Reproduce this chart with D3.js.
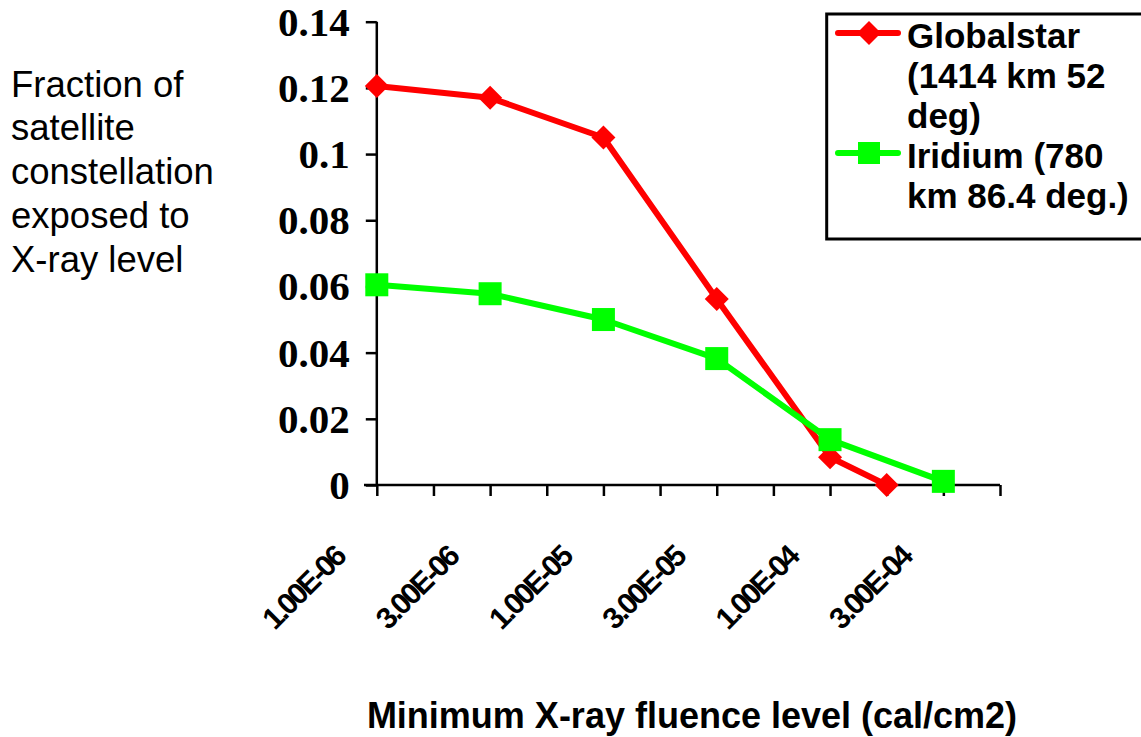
<!DOCTYPE html>
<html><head><meta charset="utf-8">
<script src="https://cdn.jsdelivr.net/npm/d3@7"></script>
<style>body{margin:0;background:#fff;overflow:hidden}svg{display:block}</style>
</head><body>
<svg id="c" width="1141" height="737"></svg>
<script>
// ---- data ----
const tickLabels = ["1.00E-06","3.00E-06","1.00E-05","3.00E-05","1.00E-04","3.00E-04"];
const tickLabelIdx = [0,2,4,6,8,10];
const globalstarIdx  = [0,2,4,6,8,9];
const globalstarVals = [0.1206,0.117,0.105,0.0562,0.0084,0.0];
const iridiumIdx  = [0,2,4,6,8,10];
const iridiumVals = [0.0605,0.0578,0.0500,0.0382,0.0137,0.0011];
const yTicks = [0,0.02,0.04,0.06,0.08,0.1,0.12,0.14];
const seriesNames = [["Globalstar","(1414 km 52","deg)"],["Iridium (780","km 86.4 deg.)"]];
const yTitle = ["Fraction of","satellite","constellation","exposed to","X-ray level"];
const xTitle = "Minimum X-ray fluence level (cal/cm2)";

const svg = d3.select("#c");
const x = d3.scaleLinear().domain([0,11]).range([376.8,1000]);
const y = d3.scaleLinear().domain([0,0.14]).range([485,21.7]);

// Y axis
const yAxis = svg.append("g").attr("transform","translate(376.8,0)")
  .call(d3.axisLeft(y).tickValues(yTicks).tickSize(11).tickPadding(0).tickFormat(d=>d3.format("")(d)));
yAxis.select(".domain").attr("stroke","#000").attr("stroke-width",2.5).attr("d","M0,21.7V485");
yAxis.selectAll(".tick line").attr("stroke","#000").attr("stroke-width",2.5);
yAxis.selectAll(".tick text").attr("x",-27).attr("dy","0.33em")
  .style("font-family","'Liberation Serif','Times New Roman',serif").style("font-weight","bold")
  .style("font-size","41px").attr("fill","#000");

// X axis
const xAxis = svg.append("g").attr("transform","translate(0,485)")
  .call(d3.axisBottom(x).tickValues(d3.range(0,12)).tickSize(11).tickFormat(""));
xAxis.select(".domain").attr("stroke","#000").attr("stroke-width",2.5).attr("d","M364,0H1000");
xAxis.selectAll(".tick line").attr("stroke","#000").attr("stroke-width",2.5);

// X tick labels (rotated)
svg.append("g").selectAll("text").data(tickLabelIdx).join("text")
  .attr("transform",(d)=>`translate(${x(d)-30},559) rotate(-45)`)
  .attr("text-anchor","end")
  .style("font-family","'Liberation Sans',Arial,sans-serif").style("font-weight","bold")
  .style("font-size","30px").style("letter-spacing","-2.5px")
  .text((d,i)=>tickLabels[i]);

// Lines
const line = d3.line().x(d=>x(d[0])).y(d=>y(d[1]));
const gData = globalstarIdx.map((d,i)=>[d,globalstarVals[i]]);
const iData = iridiumIdx.map((d,i)=>[d,iridiumVals[i]]);
svg.append("path").datum(gData).attr("d",line).attr("fill","none").attr("stroke","#ff0000").attr("stroke-width",6).attr("stroke-linejoin","round");
svg.append("path").datum(iData).attr("d",line).attr("fill","none").attr("stroke","#00ff00").attr("stroke-width",6).attr("stroke-linejoin","round");
const diamond = (cx,cy,r)=>`M${cx},${cy-r}L${cx+r},${cy}L${cx},${cy+r}L${cx-r},${cy}Z`;
svg.append("g").selectAll("path").data(gData).join("path")
  .attr("d",d=>diamond(x(d[0]),y(d[1]),12)).attr("fill","#ff0000");
svg.append("g").selectAll("rect").data(iData).join("rect")
  .attr("x",d=>x(d[0])-11.5).attr("y",d=>y(d[1])-11.5).attr("width",23).attr("height",23).attr("fill","#00ff00");

// Legend
const lg = svg.append("g");
lg.append("rect").attr("x",826.7).attr("y",14).attr("width",330).attr("height",225)
  .attr("fill","#fff").attr("stroke","#000").attr("stroke-width",3);
lg.append("line").attr("x1",838).attr("x2",898).attr("y1",33).attr("y2",33).attr("stroke","#ff0000").attr("stroke-width",6).attr("stroke-linecap","round");
lg.append("path").attr("d",diamond(869,33,12)).attr("fill","#ff0000");
lg.append("line").attr("x1",838).attr("x2",898).attr("y1",153).attr("y2",153).attr("stroke","#00ff00").attr("stroke-width",6).attr("stroke-linecap","round");
lg.append("rect").attr("x",858).attr("y",142).attr("width",22).attr("height",22).attr("fill","#00ff00");
const legLines = seriesNames[0].concat(seriesNames[1]);
lg.selectAll("text.l").data(legLines).join("text").attr("class","l")
  .attr("x",907).attr("y",(d,i)=>48+i*40)
  .style("font-family","'Liberation Sans',Arial,sans-serif").style("font-weight","bold").style("font-size","35px")
  .text(d=>d);

// Y title
svg.append("g").selectAll("text").data(yTitle).join("text")
  .attr("x",11).attr("y",(d,i)=>96.7+i*43.7)
  .style("font-family","'Liberation Sans',Arial,sans-serif").style("font-size","36.5px")
  .text(d=>d);

// X title
svg.append("text").attr("x",692).attr("y",728).attr("text-anchor","middle")
  .style("font-family","'Liberation Sans',Arial,sans-serif").style("font-weight","bold").style("font-size","36px")
  .text(xTitle);
</script>
</body></html>
